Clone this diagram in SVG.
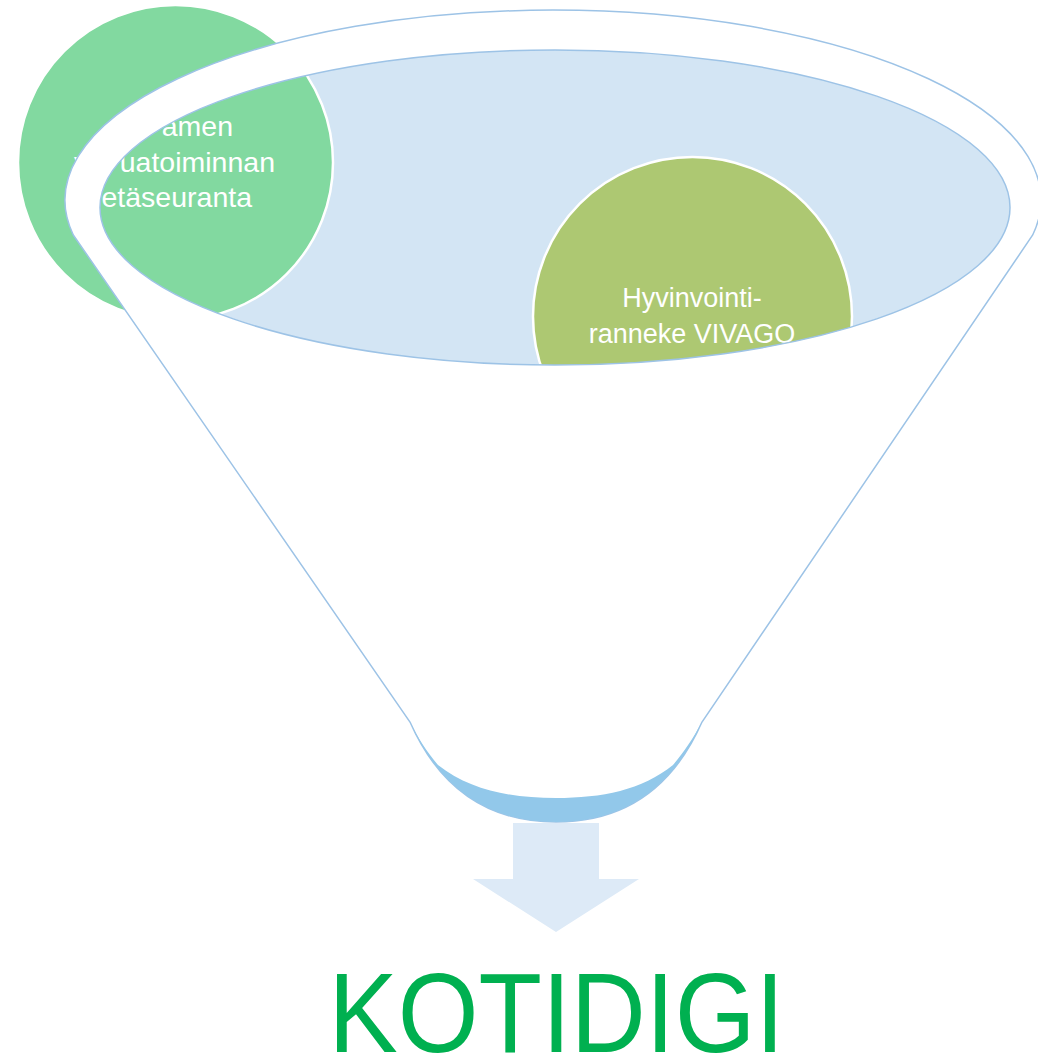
<svg xmlns="http://www.w3.org/2000/svg" width="1038" height="1057" viewBox="0 0 1038 1057">
<style>
.lbl{font-family:"Liberation Sans",Arial,sans-serif;font-size:27px;fill:#ffffff}
.lblg{font-family:"Liberation Sans",Arial,sans-serif;font-size:28.5px;fill:#ffffff}
.circ{stroke:#ffffff;stroke-width:2.5}
.edge{stroke:#9DC3E6;stroke-width:1.5}
</style>
<rect width="1038" height="1057" fill="#ffffff"/>
<g id="funnel-inner">
<ellipse cx="555" cy="207.5" rx="455" ry="157.5" fill="#D3E5F4"/>
</g>
<g id="node-etaseuranta">
<circle class="circ" cx="175.5" cy="162.5" r="157.5" fill="#82D9A0"/>
<text class="lblg" x="233" y="136" text-anchor="end">amen</text>
<text class="lblg" x="74" y="171.5">y</text>
<text class="lblg" x="275" y="171.5" text-anchor="end">uatoiminnan</text>
<text class="lblg" x="252" y="207" text-anchor="end">etäseuranta</text>
</g>
<g id="node-vivago">
<circle class="circ" cx="692.5" cy="316.5" r="159.5" fill="#ADC872"/>
<text class="lbl" x="692" y="307" text-anchor="middle">Hyvinvointi-</text>
<text class="lbl" x="692" y="342.5" text-anchor="middle">ranneke VIVAGO</text>
</g>
<g id="funnel">
<path class="edge" fill="#ffffff" fill-rule="evenodd" d="M73.3,235 A488,190 0 1 1 1032.7,235 L702,722 C672,790 622,822 556,822 C490,822 440,790 410,722 Z M100,207.5 A455,157.5 0 1 0 1010,207.5 A455,157.5 0 1 0 100,207.5 Z"/>
<path fill="#92C8EA" d="M410,722 C440,790 490,822 556,822 C622,822 672,790 702,722 C692,740 684,752 673,765 C642,790 602,798 556,798 C510,798 470,790 438,765 C427,752 419,740 410,722 Z"/>
</g>
<g id="connectors">
<path fill="#DDEAF7" d="M513,823 L599,823 L599,879 L639,879 L556,932 L473,879 L513,879 Z"/>
</g>
<g id="node-kotidigi">
<text x="328.4" y="1052" font-family="'Liberation Sans',Arial,sans-serif" font-size="113" fill="#00B050" textLength="456" lengthAdjust="spacingAndGlyphs">KOTIDIGI</text>
</g>
</svg>
